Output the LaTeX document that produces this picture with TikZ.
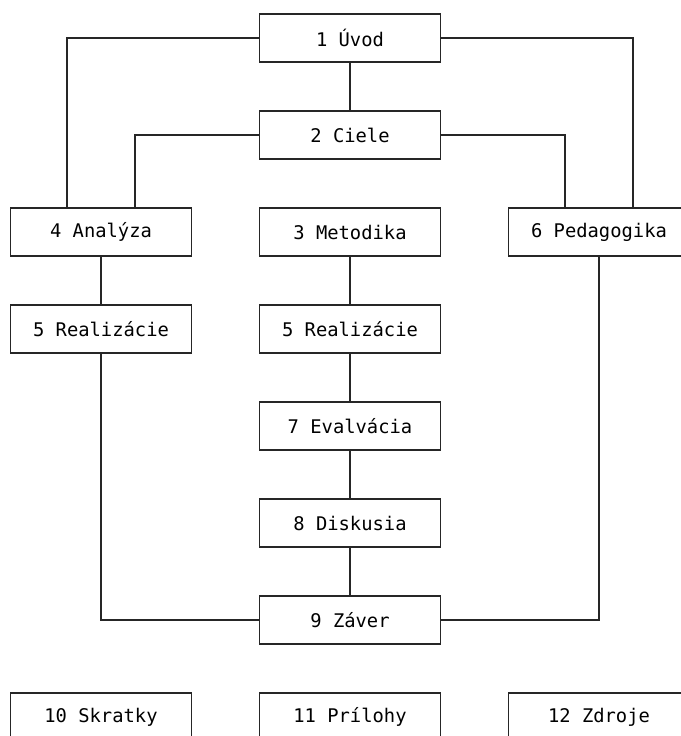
\documentclass[tikz,border=0pt]{standalone}
\usepackage{fontspec}
\newfontfamily\boxfont{DejaVu Sans Mono}
\usetikzlibrary{positioning}

\begin{document}
\begin{tikzpicture}[
    x=0.5pt, y=-0.5pt,
    node distance=24.5pt and 34pt,
    font=\boxfont\fontsize{9.4}{11}\selectfont,
    % Styles
    chapter/.style={rectangle, draw=black!85, line width=0.8pt, fill=white, minimum width=90.5pt, minimum height=24pt, inner sep=0pt, outer sep=0pt, align=center},
    link/.style={-, draw=black!85, line width=0.8pt}
]
\clip (0,0) rectangle (681,736);

% --- Center Column ---
\node[chapter] (uvod) at (350,38) {1 Úvod};
\node[chapter, below=of uvod] (ciele) {2 Ciele};
\node[chapter, below=of ciele] (metodika) {3 Metodika};
\node[chapter, below=of metodika] (real_b) {5 Realizácie};
\node[chapter, below=of real_b] (evalvacia) {7 Evalvácia};
\node[chapter, below=of evalvacia] (diskusia) {8 Diskusia};
\node[chapter, below=of diskusia] (zaver) {9 Záver};
\node[chapter, below=of zaver] (prilohy) {11 Prílohy};

% --- Side Columns ---
\node[chapter, left=of metodika] (analyza) {4 Analýza};
\node[chapter, below=of analyza] (real_a) {5 Realizácie};
\node[chapter, right=of metodika] (pedagogika) {6 Pedagogika};
\node[chapter, left=of prilohy] (skratky) {10 Skratky};
\node[chapter, right=of prilohy] (zdroje) {12 Zdroje};

% --- Connections ---
% Top to side columns
\draw[link] (uvod) -- (ciele);
\draw[link] (uvod.west) -| ([xshift=-17pt]analyza.north);
\draw[link] (uvod.east) -| ([xshift=17pt]pedagogika.north);
\draw[link] (ciele.west) -| ([xshift=17pt]analyza.north);
\draw[link] (ciele.east) -| ([xshift=-17pt]pedagogika.north);

% Center flow
\draw[link] (metodika) -- (real_b);
\draw[link] (real_b) -- (evalvacia);
\draw[link] (evalvacia) -- (diskusia);
\draw[link] (diskusia) -- (zaver);

% Side columns to conclusion
\draw[link] (analyza) -- (real_a);
\draw[link] (real_a) |- (zaver);
\draw[link] (pedagogika) |- (zaver);

\end{tikzpicture}
\end{document}
